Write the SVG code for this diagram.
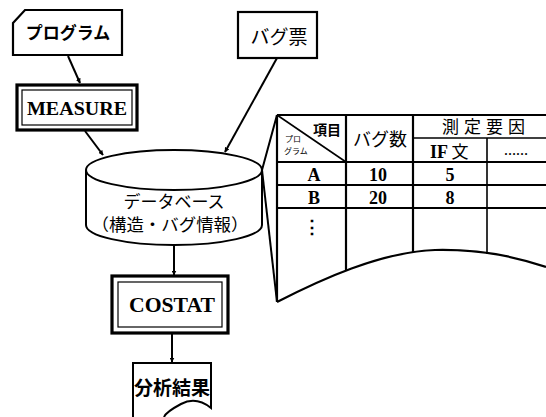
<svg xmlns="http://www.w3.org/2000/svg" width="546" height="417" viewBox="0 0 546 417">
<style>
.ln{fill:none;stroke:#000;stroke-width:2}
.box{fill:#fff;stroke:#000;stroke-width:2.2}
.jp{font-family:"Noto Sans CJK JP",sans-serif;fill:#000;text-anchor:middle}
.sr{font-family:"Liberation Serif",serif;font-weight:bold;fill:#000;text-anchor:middle}
.tl{fill:none;stroke:#000;stroke-width:1.6}
.th{fill:none;stroke:#000;stroke-width:2.2}
</style>
<defs>
<marker id="ah" viewBox="0 0 10 10" refX="9" refY="5" markerWidth="5" markerHeight="5" orient="auto" markerUnits="userSpaceOnUse">
<path d="M0,0 L10,5 L0,10 z" fill="#000"/>
</marker>
</defs>
<rect width="546" height="417" fill="#fff"/>
<g id="connectors">
<line class="ln" x1="68" y1="56" x2="80" y2="83" marker-end="url(#ah)"/>
<line class="ln" x1="85" y1="131" x2="103" y2="155" marker-end="url(#ah)"/>
<line class="ln" x1="277" y1="58" x2="225" y2="152" marker-end="url(#ah)"/>
<line class="ln" x1="174" y1="245" x2="174" y2="275" marker-end="url(#ah)"/>
<line class="ln" x1="172" y1="334" x2="172" y2="362" marker-end="url(#ah)"/>
</g>
<g id="program">
<polygon class="box" points="13,23 25,10 122,10 122,55 13,55"/>
<text class="jp" x="68" y="39" font-size="17" font-weight="bold">プログラム</text>
</g>
<g id="bugsheet">
<rect class="box" x="238" y="12" width="79" height="46" stroke-width="2.6"/>
<text class="jp" x="279" y="44" font-size="19">バグ票</text>
</g>
<g id="measure">
<rect x="17" y="85" width="120" height="45" fill="#fff" stroke="#000" stroke-width="3.2"/>
<rect x="22" y="90" width="110" height="35" fill="none" stroke="#000" stroke-width="1.2"/>
<text class="sr" x="77" y="115" font-size="19" textLength="100" lengthAdjust="spacingAndGlyphs">MEASURE</text>
</g>
<g id="database">
<path d="M86,170 V225 A88,20 0 0 0 262,225 V170" fill="#fff" stroke="#000" stroke-width="2"/>
<ellipse cx="174" cy="170" rx="88" ry="20" fill="#fff" stroke="#000" stroke-width="2"/>
<text class="jp" x="174" y="208" font-size="17">データベース</text>
<text class="jp" x="170" y="231" font-size="16.5" textLength="157" lengthAdjust="spacingAndGlyphs">（構造・バグ情報）</text>
</g>
<g id="costat">
<rect x="112" y="276" width="116" height="57" fill="#fff" stroke="#000" stroke-width="3.2"/>
<rect x="118" y="282" width="104" height="45" fill="none" stroke="#000" stroke-width="1.2"/>
<text class="sr" x="172" y="312" font-size="20" textLength="86" lengthAdjust="spacingAndGlyphs">COSTAT</text>
</g>
<g id="result">
<path d="M133,417 V363 H211 V408 Q196,396 181,404 T164,417" fill="#fff" stroke="#000" stroke-width="2"/>
<text class="jp" x="172" y="395" font-size="19" font-weight="bold">分析結果</text>
</g>
<g id="table">
<polyline class="ln" points="277,115 262,170"/>
<polyline class="ln" points="262,170 277,302"/>
<line class="th" x1="277" y1="115" x2="546" y2="115"/>
<line class="th" x1="277" y1="115" x2="277" y2="302"/>
<line class="tl" x1="413" y1="138" x2="546" y2="138"/>
<line class="th" x1="277" y1="162" x2="546" y2="162"/>
<line class="th" x1="277" y1="185" x2="546" y2="185"/>
<line class="th" x1="277" y1="208" x2="546" y2="208"/>
<line class="th" x1="346" y1="115" x2="346" y2="270"/>
<line class="th" x1="413" y1="115" x2="413" y2="252"/>
<line class="tl" x1="487" y1="138" x2="487" y2="254"/>
<line class="tl" x1="277" y1="115" x2="346" y2="162"/>
<path class="th" d="M277,302 C320,280 380,252 435,250 C480,249 520,258 546,267"/>
<text class="jp" x="327" y="135" font-size="14" font-weight="bold">項目</text>
<text class="jp" x="285" y="142" font-size="8" style="text-anchor:start">プロ</text>
<text class="jp" x="284" y="154" font-size="8" style="text-anchor:start">グラム</text>
<text class="jp" x="380" y="146" font-size="18">バグ数</text>
<text class="jp" x="486" y="133" font-size="17" letter-spacing="5">測定要因</text>
<text class="sr" x="439" y="158" font-size="18">IF</text>
<text class="jp" x="460" y="158" font-size="17">文</text>
<text class="sr" x="516" y="155" font-size="12">……</text>
<text class="sr" x="314" y="181" font-size="18">A</text>
<text class="sr" x="378" y="181" font-size="18">10</text>
<text class="sr" x="450" y="181" font-size="18">5</text>
<text class="sr" x="314" y="204" font-size="18">B</text>
<text class="sr" x="378" y="204" font-size="18">20</text>
<text class="sr" x="450" y="204" font-size="18">8</text>
<text class="sr" x="312" y="233" font-size="18">⋮</text>
</g>
</svg>
